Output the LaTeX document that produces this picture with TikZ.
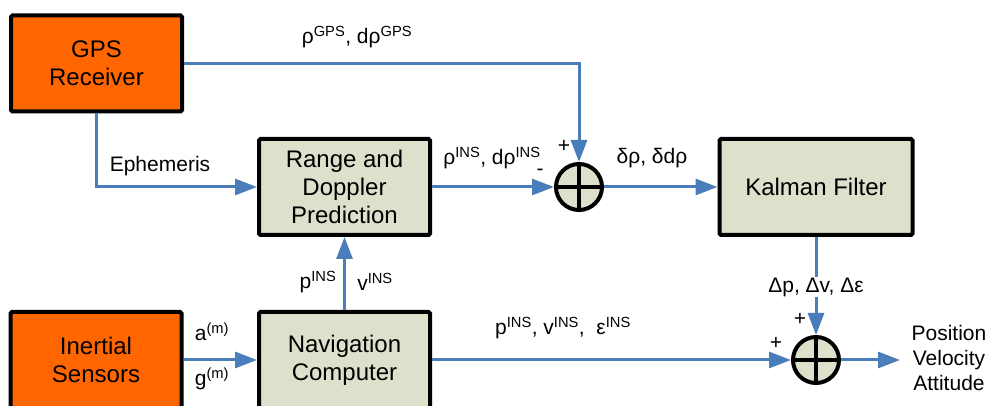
\documentclass[tikz,border=0pt]{standalone}
\usepackage{fontspec}
\setmainfont{Liberation Sans}
\usetikzlibrary{arrows.meta}
\definecolor{orng}{HTML}{FF6600}
\definecolor{sage}{HTML}{DDE1CB}
\definecolor{lblue}{HTML}{4A7EBB}
\begin{document}
\begin{tikzpicture}[x=1pt,y=-1pt,
 blk/.style={draw=black, line width=4pt, rounded corners=1.5pt, minimum width=171pt, minimum height=96pt, align=center, font=\fontsize{24}{28}\selectfont, inner sep=0pt},
 hw/.style={blk, fill=orng},
 sw/.style={blk, fill=sage},
 sumc/.style={circle, draw=black, line width=4pt, fill=sage, minimum size=46pt, inner sep=0pt},
 flow/.style={draw=lblue, line width=3pt, -{Triangle[length=22pt,width=16pt]}},
 lbl/.style={font=\fontsize{21}{25}\selectfont, inner sep=1pt},
 cross/.style={line width=4pt, black},
]
\useasboundingbox (0,0) rectangle (989,406);
\node[hw] (gps) at (96.5,63.5) {GPS\\Receiver};
\node[sw] (rdp) at (344.5,187) {Range and\\Doppler\\Prediction};
\node[sw, minimum width=193pt] (kf) at (816,187) {Kalman Filter};
\node[hw] (ins) at (96,360) {Inertial\\Sensors};
\node[sw] (nav) at (344.5,360) {Navigation\\Computer};
\node[sumc] (s1) at (579,187) {};
\node[sumc] (s2) at (816,360) {};
\draw[cross] (s1.north) -- (s1.south) (s1.west) -- (s1.east);
\draw[cross] (s2.north) -- (s2.south) (s2.west) -- (s2.east);
\coordinate (out) at (900,360);
\draw[flow] (gps.east) -| (s1.north);
\draw[flow] (gps.south) |- (rdp.west);
\draw[flow] (rdp.east) -- (s1.west);
\draw[flow] (s1.east) -- (kf.west);
\draw[flow] (kf.south) -- (s2.north);
\draw[flow] (nav.north) -- (rdp.south);
\draw[flow] (ins.east) -- (nav.west);
\draw[flow] (nav.east) -- (s2.west);
\draw[flow] (s2.east) -- (out);
\node[lbl] (lgps) at (357,37) {ρ\textsuperscript{GPS}, dρ\textsuperscript{GPS}};
\node[lbl] (leph) at (160,166) {Ephemeris};
\node[lbl] (lins) at (492,158) {ρ\textsuperscript{INS}, dρ\textsuperscript{INS}};
\node[lbl] (lm1) at (540,172) {-};
\node[lbl] (lp1) at (564,146) {+};
\node[lbl] (ldd) at (652,158) {δρ, δdρ};
\node[lbl] (lpi) at (318,282) {p\textsuperscript{INS}};
\node[lbl] (lvi) at (375,282) {v\textsuperscript{INS}};
\node[lbl, fill=white] (ldel) at (816,287) {Δp, Δv, Δε};
\node[lbl] (lp2) at (800,319) {+};
\node[lbl] (lp3) at (776,343) {+};
\node[lbl] (lpve) at (563,328) {p\textsuperscript{INS}, v\textsuperscript{INS},\; ε\textsuperscript{INS}};
\node[lbl] (lam) at (212,332) {a\textsuperscript{(m)}};
\node[lbl] (lgm) at (212,379) {g\textsuperscript{(m)}};
\node[lbl, align=center] (pva) at (949,358) {Position\\Velocity\\Attitude};
\end{tikzpicture}
\end{document}
